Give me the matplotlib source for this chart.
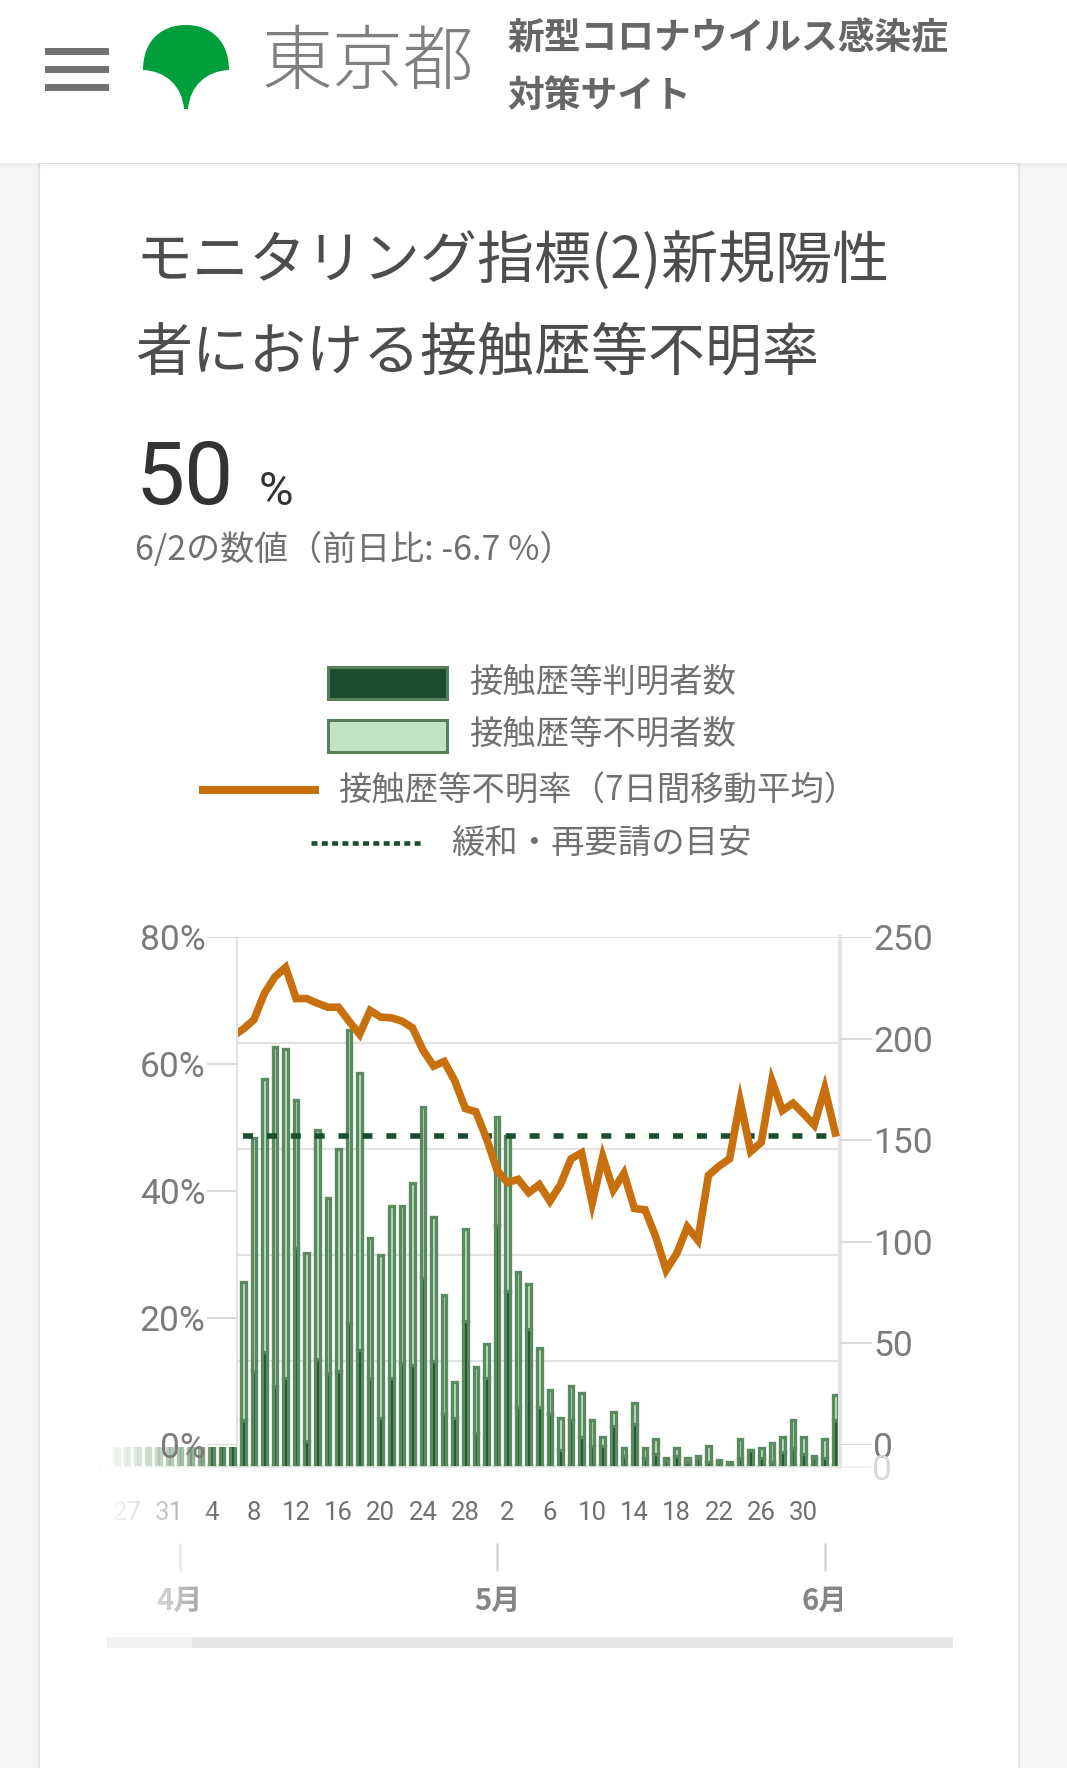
import numpy as np
import pandas as pd
import matplotlib
matplotlib.use('Agg')
import matplotlib.pyplot as plt
import matplotlib.transforms as mtransforms
from matplotlib.patches import Rectangle, PathPatch
from matplotlib.path import Path
from matplotlib.lines import Line2D

plt.rcParams['font.family'] = ['Roboto', 'Noto Sans CJK JP', 'DejaVu Sans']

# ---------------- data ----------------
dates = pd.date_range('2020-03-26', '2020-06-02', freq='D')
known_counts = [22, 18, 28, 26, 12, 35, 30, 40, 36, 45, 55, 38,
                22, 45, 54, 38, 42, 103, 12, 51, 44, 45, 68, 55, 42, 23, 42, 49, 48, 89, 50, 25, 23, 69, 16, 42,
                114, 83, 28, 65, 28, 25, 8, 22, 14, 10, 10, 19, 5, 20, 4, 6, 3, 5, 2, 4, 2, 2, 1, 4, 8, 4, 2, 7, 9, 6, 4,
                4, 22]
unknown_counts = [25, 22, 35, 42, 1, 43, 36, 57, 53, 71, 88, 45,
                  65, 110, 129, 160, 155, 70, 89, 108, 83, 105, 138, 131, 66, 77, 81, 74, 86, 81, 68, 56, 17, 43, 31, 16,
                  51, 73, 64, 21, 28, 11, 15, 16, 21, 12, 4, 7, 4, 10, 5, 7, 1, 4, 2, 1, 8, 1, 1, 9, 0, 5, 9, 7, 13, 8, 1,
                  9, 12]
rate_dates = pd.date_range('2020-04-06', '2020-06-02', freq='D')
rate_values = [65.0, 66.1, 67.5, 71.5, 74.0, 75.4, 70.7, 70.7, 70.0, 69.4, 69.4, 67.3, 65.3, 68.9, 67.9, 67.8, 67.3,
               66.3, 62.9, 60.5, 61.2, 58.3, 54.1, 53.6, 49.6,
               44.8, 42.9, 43.4, 41.4, 42.6, 40.1, 42.6, 46.5, 47.4, 39.8, 46.8, 41.8, 44.3, 39.0, 38.8, 34.8, 29.7,
               32.2, 36.2, 34.2, 44.0, 45.4, 46.5, 55.2, 47.6, 49.0, 58.3, 53.8, 54.9, 53.3, 51.6,
               57.1, 50.4]
target_start, target_end = pd.Timestamp('2020-04-07'), pd.Timestamp('2020-06-02')
target_value = 50
pct_ticks = [0, 20, 40, 60, 80]
count_ticks = [0, 50, 100, 150, 200, 250]
month_starts = [pd.Timestamp('2020-04-01'), pd.Timestamp('2020-05-01'), pd.Timestamp('2020-06-01')]
month_labels = ['4月', '5月', '6月']

header_title = ['新型コロナウイルス感染症', '対策サイト']
logo_text = '東京都'
title_lines = ['モニタリング指標(2)新規陽性', '者における接触歴等不明率']
value_text, unit_text = '50', '%'
sub_text = '6/2の数値（前日比: -6.7 %）'
legend_labels = ['接触歴等判明者数', '接触歴等不明者数', '接触歴等不明率（7日間移動平均）', '緩和・再要請の目安']

# ---------------- style ----------------
DARK = '#1d4d2f'
LIGHT = '#c3e3c5'
EDGE = '#567f5a'
BAR_EDGE = '#5a8a5f'
ORANGE = '#c8700e'
GRAY_TXT = '#707070'
JP = ['Noto Sans CJK JP', 'DejaVu Sans']

W, H = 1067, 1768
fig = plt.figure(figsize=(W / 100, H / 100), dpi=100, facecolor='#f6f6f6')
tP = mtransforms.Affine2D().scale(1 / W, -1 / H).translate(0, 1) + fig.transFigure


def frect(x, y, w, h, color, z, ec='none', lw=0, alpha=1.0):
    r = Rectangle((x, y), w, h, transform=tP, facecolor=color, edgecolor=ec, lw=lw, zorder=z, alpha=alpha)
    fig.add_artist(r)


def axes_px(x0, y0, x1, y1):
    return fig.add_axes([x0 / W, 1 - y1 / H, (x1 - x0) / W, (y1 - y0) / H])


# card and header
frect(39, 163, 980, 1620, 'white', 0.2, ec='#e4e4e4', lw=1.5)
frect(0, 0, W, 163, 'white', 0.3)
for i in range(6):
    frect(0, 163 + i, W, 1, 'black', 0.31, alpha=0.04 * (1 - i / 6))
for yc in (51, 69, 87):
    frect(45, yc - 3.5, 64, 7, '#727272', 0.4)

verts = [(143, 70), (143, 40), (162, 25), (186, 25), (210, 25), (229, 40), (229, 70),
         (206, 71), (190, 86), (188, 109), (184, 109), (182, 86), (166, 71), (143, 70), (143, 70)]
codes = [Path.MOVETO, Path.CURVE4, Path.CURVE4, Path.CURVE4, Path.CURVE4, Path.CURVE4, Path.CURVE4,
         Path.CURVE4, Path.CURVE4, Path.CURVE4, Path.LINETO, Path.CURVE4, Path.CURVE4, Path.CURVE4, Path.CLOSEPOLY]
fig.add_artist(PathPatch(Path(verts, codes), transform=tP, facecolor='#009f3c', edgecolor='none', zorder=0.5))

fig.text(262, 64, logo_text, transform=tP, fontsize=51, color='#7f7f7f', va='center', ha='left',
         family=JP, weight='light', zorder=0.5)
fig.text(507, 39, header_title[0], transform=tP, fontsize=26.5, weight='bold', color='#666666',
         va='center', family=JP, zorder=0.5)
fig.text(507, 96, header_title[1], transform=tP, fontsize=26.5, weight='bold', color='#666666',
         va='center', family=JP, zorder=0.5)

fig.text(135, 262, title_lines[0], transform=tP, fontsize=41, color='#4d4d4d', va='center', family=JP, zorder=0.5)
fig.text(135, 353, title_lines[1], transform=tP, fontsize=41, color='#4d4d4d', va='center', family=JP, zorder=0.5)
fig.text(135, 504, value_text, transform=tP, fontsize=63, color='#333333', va='baseline',
         family=['Roboto', 'DejaVu Sans'], zorder=0.5)
fig.text(259, 505, unit_text, transform=tP, fontsize=34, color='#333333', va='baseline',
         family=['Roboto', 'DejaVu Sans'], zorder=0.5)
fig.text(135, 550, sub_text, transform=tP, fontsize=24.5, color=GRAY_TXT, va='center', family=JP, zorder=0.5)

# legend
frect(328, 667, 119, 32, DARK, 2, ec=EDGE, lw=2.2)
frect(328, 720, 119, 32, LIGHT, 2, ec=EDGE, lw=2.2)
fig.add_artist(Line2D([199, 319], [790, 790], transform=tP, color=ORANGE, lw=5.8, solid_capstyle='butt', zorder=2))
fig.add_artist(Line2D([311, 424], [843, 843], transform=tP, color=DARK, lw=3.3,
                      linestyle=(0, (1.3, 0.95)), dash_capstyle='butt', zorder=2))
for (lx, ly), lab in zip([(469, 682), (469, 734), (338, 790), (451, 843)], legend_labels):
    fig.text(lx, ly, lab, transform=tP, fontsize=24, color=GRAY_TXT, va='center', family=JP, zorder=2)

# ---------------- main chart ----------------
x = np.arange(len(dates))
known = np.array(known_counts)
unknown = np.array(unknown_counts)
i_first = dates.get_loc(pd.Timestamp('2020-04-07'))
day_px = (835.3 - 243.3) / 56

ax = axes_px(100, 937, 840, 1466.7)
ax.set_zorder(1)
ax.patch.set_visible(False)
ax.bar(x, known, width=0.44, color=DARK, edgecolor=BAR_EDGE, lw=2.4, zorder=2)
ax.bar(x, unknown, bottom=known, width=0.44, color=LIGHT, edgecolor=BAR_EDGE, lw=2.4, zorder=2)
ax.set_xlim(i_first - (243.3 - 100) / day_px, i_first + (840 - 243.3) / day_px)
ax.set_ylim(0, 250)
ax.set_yticks(count_ticks)
ax.yaxis.set_ticklabels([])
ax.tick_params(axis='y', length=0)
ax.grid(axis='y', color='#e2e2e2', lw=1.5)
ax.set_axisbelow(True)
for s in ('top', 'left'):
    ax.spines[s].set_visible(False)
ax.spines['right'].set_color('#e4e4e4')
ax.spines['right'].set_linewidth(2.9)
ax.spines['bottom'].set_color('#e8e8e8')
ax.spines['bottom'].set_linewidth(1.2)
ax.set_xticks(x[1::4], [str(d.day) for d in dates[1::4]])
ax.tick_params(axis='x', length=0, pad=25, labelsize=18.5, labelcolor=GRAY_TXT)

sec = ax.secondary_xaxis((1466.7 - 1571) / (1466.7 - 937))
sec.set_xticks([dates.get_loc(m) for m in month_starts], month_labels)
sec.tick_params(direction='in', length=20, width=1.8, color='#d6d6d6', labelsize=21,
                labelcolor='#858585', pad=11)
for lab in sec.get_xticklabels():
    lab.set_fontweight('bold')
    lab.set_family(JP)
sec.spines['bottom'].set_visible(False)

ax2 = ax.twinx()
ax2.set_zorder(1.5)
ax2.set_ylim(0, 80)
ax2.set_yticks([])
for s in ax2.spines.values():
    s.set_visible(False)
rx = np.array([dates.get_loc(d) for d in rate_dates])
ax2.plot([dates.get_loc(target_start), dates.get_loc(target_end)], [target_value, target_value],
         color=DARK, lw=4, linestyle=(0, (1.8, 2.5)), dash_capstyle='butt', zorder=2)
ax2.plot(rx, rate_values, color=ORANGE, lw=5.5, solid_joinstyle='miter', zorder=3)

# fixed y-axis panels (white covers)
frect(41, 880, 196, 567, 'white', 3)
frect(842, 880, 175, 745, 'white', 3)

# left fade
axF = axes_px(100, 1447, 237, 1625)
axF.set_zorder(4)
xs = np.linspace(100, 237, 200)
alpha = np.clip((215 - xs) / 115, 0, 1) ** 0.6
img = np.ones((1, xs.size, 4))
img[0, :, 3] = alpha
axF.imshow(img, aspect='auto', extent=(0, 1, 0, 1), interpolation='bilinear')
axF.set_axis_off()

axL = axes_px(207, 937, 237, 1445)
axL.set_zorder(5)
axL.patch.set_visible(False)
axL.set_ylim(0, 80)
axL.set_yticks(pct_ticks, [f'{v}%' for v in pct_ticks])
axL.set_xticks([])
axL.grid(axis='y', color='#d9d9d9', lw=1.5)
axL.tick_params(axis='y', length=0, pad=1, labelsize=25.5, labelcolor='#7b7b7b')
for s in ('left', 'top', 'bottom'):
    axL.spines[s].set_visible(False)
axL.spines['right'].set_color('#e2e2e2')
axL.spines['right'].set_linewidth(1.5)

axR = axes_px(840, 937, 872, 1445)
axR.set_zorder(5)
axR.patch.set_visible(False)
axR.set_ylim(0, 250)
axR.yaxis.tick_right()
axR.set_yticks(count_ticks, [str(v) for v in count_ticks])
axR.set_xticks([])
axR.grid(axis='y', color='#d9d9d9', lw=1.5)
axR.tick_params(axis='y', length=0, pad=1, labelsize=25.5, labelcolor='#7b7b7b')
for s in axR.spines.values():
    s.set_visible(False)

axT = axes_px(100, 937, 840, 1466.7)
axT.set_zorder(5)
axT.patch.set_visible(False)
axT.set_ylim(0, 250)
axT.yaxis.tick_right()
axT.set_yticks([0], ['0'])
axT.set_xticks([])
axT.tick_params(axis='y', length=22, width=1.1, color='#ececec', pad=1, labelsize=25.5, labelcolor='#d8d8d8')
for s in axT.spines.values():
    s.set_visible(False)

# scrollbar
frect(107, 1637, 846, 11, '#f3f3f3', 0.5)
frect(192, 1637, 761, 11, '#e6e6e6', 0.6)

fig.savefig('out.png', dpi=100, facecolor=fig.get_facecolor())
